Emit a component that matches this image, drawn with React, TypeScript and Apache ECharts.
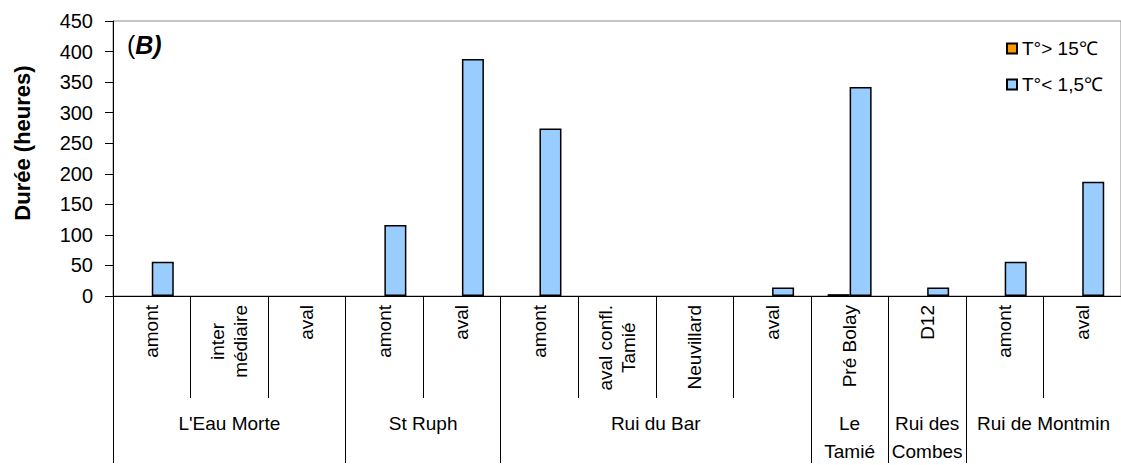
import React, { useEffect, useRef } from "react";
import * as echarts from "echarts";

const stations = [
  "amont",
  "inter\nmédiaire",
  "aval",
  "amont",
  "aval",
  "amont",
  "aval confl.\nTamié",
  "Neuvillard",
  "aval",
  "Pré Bolay",
  "D12",
  "amont",
  "aval",
];
const groupNames = ["L'Eau Morte", "St Ruph", "Rui du Bar", "Le\nTamié", "Rui des\nCombes", "Rui de Montmin"];
const groupSizes = [3, 2, 4, 1, 1, 2];
const hotValues = [0, 0, 0, 0, 0, 0, 0, 0, 0, 3, 0, 0, 0];
const coldValues = [56, 0, 0, 116, 388, 274, 0, 0, 14, 342, 14, 56, 187];
const seriesNames = ["T°> 15℃", "T°< 1,5℃"];
const yTicks = { min: 0, max: 450, interval: 50 };

const FONT = "'Liberation Sans', Arial, sans-serif";
const LABEL_SIZE = 19;

function measure(text: string, size: number): number {
  const c = document.createElement("canvas").getContext("2d");
  if (!c) return text.length * size * 0.55;
  c.font = `${size}px ${FONT}`;
  const w = c.measureText(text).width;
  return w > 0 ? w : text.length * size * 0.55;
}

export default function App() {
  const ref = useRef<HTMLDivElement>(null);
  useEffect(() => {
    if (!ref.current) return;
    const chart = echarts.init(ref.current, null, { renderer: "svg" });

    const boundaries: number[] = [0];
    const centers: number[] = [];
    let acc = 0;
    groupSizes.forEach((s) => {
      centers.push(acc + s / 2);
      acc += s;
      boundaries.push(acc);
    });
    const centerName = (v: number) => {
      const i = centers.findIndex((c) => Math.abs(c - v) < 1e-6);
      return i >= 0 ? groupNames[i] : "";
    };

    const nz = (arr: number[]) => arr.map((v) => (v === 0 ? null : v));

    const staticGraphic = [
      {
        id: "ytitle",
        type: "text",
        x: 22,
        y: 143,
        rotation: Math.PI / 2,
        style: {
          text: "Durée (heures)",
          font: "bold 22px " + FONT,
          fill: "#000",
          align: "center",
          verticalAlign: "middle",
        },
      },
      {
        id: "panel",
        type: "text",
        x: 127,
        y: 45,
        style: {
          text: "{r|(}{b|B)}",
          verticalAlign: "middle",
          rich: {
            r: { fontSize: 25, fontFamily: FONT, fill: "#000" },
            b: { fontSize: 25, fontFamily: FONT, fontWeight: "bold", fontStyle: "italic", fill: "#000" },
          },
        },
      },
    ];

    chart.setOption({
      animation: false,
      backgroundColor: "#fff",
      textStyle: { fontFamily: FONT },
      grid: {
        left: 113,
        top: 21,
        width: 1013,
        height: 277,
        show: true,
        borderColor: "#8a8a8a",
        borderWidth: 1,
        containLabel: false,
      },
      legend: {
        orient: "vertical",
        left: 1001,
        top: 34,
        itemWidth: 10,
        itemHeight: 10,
        itemGap: 17,
        icon: "rect",
        textStyle: { fontFamily: FONT, fontSize: 19, color: "#000" },
        data: seriesNames,
      },
      xAxis: [
        {
          type: "category",
          data: stations,
          position: "bottom",
          boundaryGap: true,
          axisLine: { show: true, lineStyle: { color: "#000", width: 1 } },
          axisTick: { show: true, interval: 0, length: 102, lineStyle: { color: "#000", width: 1 } },
          axisLabel: { show: false },
        },
        {
          type: "value",
          min: 0,
          max: stations.length,
          position: "bottom",
          axisLine: { show: false },
          splitLine: { show: false },
          axisTick: {
            show: true,
            customValues: boundaries,
            length: 167,
            lineStyle: { color: "#000", width: 1 },
          },
          axisLabel: {
            customValues: centers,
            margin: 113,
            color: "#000",
            fontSize: 19,
            lineHeight: 28,
            fontFamily: FONT,
            formatter: (v: number) => centerName(v),
          },
        },
      ],
      yAxis: {
        type: "value",
        min: yTicks.min,
        max: yTicks.max,
        interval: yTicks.interval,
        axisLine: { show: true, lineStyle: { color: "#000", width: 1 } },
        axisTick: { show: true, inside: false, length: 8, lineStyle: { color: "#000" } },
        splitLine: { show: false },
        axisLabel: { margin: 20, color: "#000", fontSize: 20, fontFamily: FONT },
      },
      graphic: staticGraphic,
      series: [
        {
          name: seriesNames[0],
          type: "bar",
          data: nz(hotValues),
          barWidth: 22,
          barGap: "0%",
          itemStyle: { color: "#FF9900", borderColor: "#000", borderWidth: 1.5 },
        },
        {
          name: seriesNames[1],
          type: "bar",
          data: nz(coldValues),
          barWidth: 22,
          barGap: "0%",
          itemStyle: { color: "#99CCFF", borderColor: "#000", borderWidth: 1.5 },
        },
      ],
    });

    // rotated station labels, placed through the category axis scale;
    // lines of a multi-line label are centred on each other
    const baseY = chart.convertToPixel({ yAxisIndex: 0 }, 0) as number;
    const labelGraphic = stations.map((s, i) => {
      const cx = chart.convertToPixel({ xAxisIndex: 0 }, i) as number;
      const maxW = Math.max(...s.split("\n").map((l) => measure(l, LABEL_SIZE)));
      return {
        id: "st" + i,
        type: "text",
        x: cx,
        y: baseY + 9 + maxW / 2,
        rotation: Math.PI / 2,
        style: {
          text: s,
          font: `${LABEL_SIZE}px ${FONT}`,
          lineHeight: 23,
          fill: "#000",
          align: "center",
          verticalAlign: "middle",
        },
      };
    });
    chart.setOption({ graphic: [...staticGraphic, ...labelGraphic] });

    return () => chart.dispose();
  }, []);
  return (
    <div
      ref={ref}
      style={{ position: "absolute", left: 0, top: 0, width: 1121, height: 465 }}
    />
  );
}
